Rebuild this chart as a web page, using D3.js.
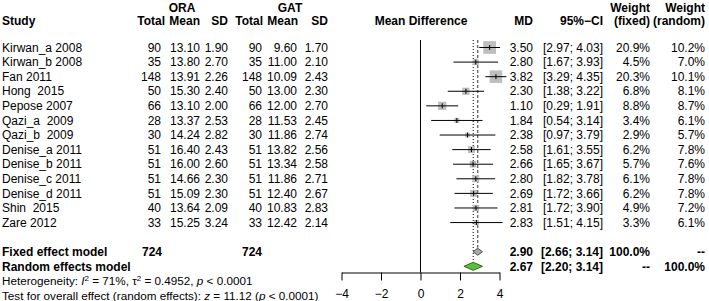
<!DOCTYPE html>
<html>
<head>
<meta charset="utf-8">
<script src="https://cdn.jsdelivr.net/npm/d3@7"></script>
<style>
  body { margin: 0; background: #fff; }
  svg text { font-family: "Liberation Sans", Arial, Helvetica, sans-serif; fill: #000; white-space: pre; }
</style>
</head>
<body>
<figure id="forest" style="margin:0"></figure>
<script>
// data
var studies = ["Kirwan_a 2008", "Kirwan_b 2008", "Fan 2011", "Hong  2015", "Pepose 2007", "Qazi_a  2009",
  "Qazi_b  2009", "Denise_a 2011", "Denise_b 2011", "Denise_c 2011", "Denise_d 2011", "Shin  2015", "Zare 2012"];
var oraTotal = [90, 35, 148, 50, 66, 28, 30, 51, 51, 51, 51, 40, 33];
var oraMean = ["13.10", "13.80", "13.91", "15.30", "13.10", "13.37", "14.24", "16.40", "16.00", "14.66", "15.09", "13.64", "15.25"];
var oraSD = ["1.90", "2.70", "2.26", "2.40", "2.00", "2.53", "2.82", "2.43", "2.60", "2.30", "2.30", "2.09", "3.24"];
var gatTotal = [90, 35, 148, 50, 66, 28, 30, 51, 51, 51, 51, 40, 33];
var gatMean = ["9.60", "11.00", "10.09", "13.00", "12.00", "11.53", "11.86", "13.82", "13.34", "11.86", "12.40", "10.83", "12.42"];
var gatSD = ["1.70", "2.10", "2.43", "2.30", "2.70", "2.45", "2.74", "2.56", "2.58", "2.71", "2.67", "2.83", "2.14"];
var md = [3.50, 2.80, 3.82, 2.30, 1.10, 1.84, 2.38, 2.58, 2.66, 2.80, 2.69, 2.81, 2.83];
var lower = [2.97, 1.67, 3.29, 1.38, 0.29, 0.54, 0.97, 1.61, 1.65, 1.82, 1.72, 1.72, 1.51];
var upper = [4.03, 3.93, 4.35, 3.22, 1.91, 3.14, 3.79, 3.55, 3.67, 3.78, 3.66, 3.90, 4.15];
var wFixed = [20.9, 4.5, 20.3, 6.8, 8.8, 3.4, 2.9, 6.2, 5.7, 6.1, 6.2, 4.9, 3.3];
var wRandom = [10.2, 7.0, 10.1, 8.1, 8.7, 6.1, 5.7, 7.8, 7.6, 7.8, 7.8, 7.2, 6.1];
var fixedEst = [2.90, 2.66, 3.14];
var randomEst = [2.67, 2.20, 3.14];
var totalN = [724, 724];
var xTicks = [-4, -2, 0, 2, 4];

var width = 709, height = 301;

var svg = d3.select("figure#forest")
  .append("svg")
  .attr("width", width)
  .attr("height", height);

// x scale for the mean difference panel
var x = d3.scaleLinear().domain([-4, 4]).range([341.5, 499.5]);
// line number -> vertical centre (lines 4.. are study rows)
var y = d3.scaleLinear().domain([4, 21]).range([47.5, 295.5]);
var headY = [7.5, 20.5];

function txt(g, xx, yy, s, anchor, bold, size) {
  return g.append("text")
    .attr("x", xx)
    .attr("y", yy)
    .attr("dy", "0.35em")
    .attr("text-anchor", anchor || "end")
    .style("font-size", (size || 12) + "px")
    .style("font-weight", bold ? "bold" : "normal")
    .text(s);
}

var head = svg.append("g");
txt(head, 182, headY[0], "ORA", "middle", true);
txt(head, 290, headY[0], "GAT", "middle", true);
txt(head, 2, headY[1], "Study", "start", true);
txt(head, 165, headY[1], "Total", "end", true);
txt(head, 200, headY[1], "Mean", "end", true);
txt(head, 228, headY[1], "SD", "end", true);
txt(head, 263, headY[1], "Total", "end", true);
txt(head, 298, headY[1], "Mean", "end", true);
txt(head, 328, headY[1], "SD", "end", true);
txt(head, 421, headY[1], "Mean Difference", "middle", true);
txt(head, 533, headY[1], "MD", "end", true);
txt(head, 603, headY[1], "95%\u2212CI", "end", true);
txt(head, 650, headY[0], "Weight", "end", true);
txt(head, 650, headY[1], "(fixed)", "end", true);
txt(head, 705, headY[0], "Weight", "end", true);
txt(head, 705, headY[1], "(random)", "end", true);

// study rows
var rows = svg.append("g");
studies.forEach(function(s, i) {
  var yy = y(i + 4);
  txt(rows, 2, yy, s, "start");
  txt(rows, 161, yy, oraTotal[i]);
  txt(rows, 200, yy, oraMean[i]);
  txt(rows, 228, yy, oraSD[i]);
  txt(rows, 262, yy, gatTotal[i]);
  txt(rows, 297, yy, gatMean[i]);
  txt(rows, 328, yy, gatSD[i]);
  txt(rows, 533, yy, md[i].toFixed(2));
  txt(rows, 603, yy, "[" + lower[i].toFixed(2) + "; " + upper[i].toFixed(2) + "]");
  txt(rows, 650, yy, wFixed[i].toFixed(1) + "%");
  txt(rows, 705, yy, wRandom[i].toFixed(1) + "%");
});

// summary rows
var sum = svg.append("g");
txt(sum, 2, y(18), "Fixed effect model", "start", true);
txt(sum, 162, y(18), totalN[0], "end", true);
txt(sum, 262, y(18), totalN[1], "end", true);
txt(sum, 533, y(18), fixedEst[0].toFixed(2), "end", true);
txt(sum, 603, y(18), "[" + fixedEst[1].toFixed(2) + "; " + fixedEst[2].toFixed(2) + "]", "end", true);
txt(sum, 650, y(18), "100.0%", "end", true);
txt(sum, 705, y(18), "--", "end", true);
txt(sum, 2, y(19), "Random effects model", "start", true);
txt(sum, 533, y(19), randomEst[0].toFixed(2), "end", true);
txt(sum, 603, y(19), "[" + randomEst[1].toFixed(2) + "; " + randomEst[2].toFixed(2) + "]", "end", true);
txt(sum, 650, y(19), "--", "end", true);
txt(sum, 705, y(19), "100.0%", "end", true);

var het = txt(sum, 2, y(20), "", "start", false, 11.7);
het.append("tspan").text("Heterogeneity: ");
het.append("tspan").style("font-style", "italic").text("I");
het.append("tspan").attr("baseline-shift", "super").style("font-size", "8px").text("2");
het.append("tspan").text(" = 71%, \u03c4");
het.append("tspan").attr("baseline-shift", "super").style("font-size", "8px").text("2");
het.append("tspan").text(" = 0.4952, ");
het.append("tspan").style("font-style", "italic").text("p");
het.append("tspan").text(" < 0.0001");

var tst = txt(sum, 2, y(21), "", "start", false, 11.7);
tst.append("tspan").text("Test for overall effect (random effects): ");
tst.append("tspan").style("font-style", "italic").text("z");
tst.append("tspan").text(" = 11.12 (");
tst.append("tspan").style("font-style", "italic").text("p");
tst.append("tspan").text(" < 0.0001)");

// reference lines
var plot = svg.append("g");
var axisY = 272.5;
plot.append("line")
  .attr("x1", x(0)).attr("x2", x(0))
  .attr("y1", 40).attr("y2", axisY)
  .attr("stroke", "#000").attr("stroke-width", 1);
plot.append("line")
  .attr("x1", x(fixedEst[0])).attr("x2", x(fixedEst[0]))
  .attr("y1", 40).attr("y2", y(18) - 4)
  .attr("stroke", "#333").attr("stroke-width", 1)
  .attr("stroke-dasharray", "3,2");
plot.append("line")
  .attr("x1", x(randomEst[0])).attr("x2", x(randomEst[0]))
  .attr("y1", 40).attr("y2", y(19) - 4)
  .attr("stroke", "#000").attr("stroke-width", 1)
  .attr("stroke-dasharray", "1,2");

// squares, CI lines and estimate ticks
var side = function(d) { return 2.78 * Math.sqrt(wFixed[d.i]); };
var study = plot.selectAll("g.study")
  .data(studies.map(function(s, i) { return {i: i}; }))
  .enter().append("g").attr("class", "study");

study.append("rect")
  .attr("x", function(d) { return x(md[d.i]) - side(d) / 2; })
  .attr("y", function(d) { return y(d.i + 4) - side(d) / 2; })
  .attr("width", side)
  .attr("height", side)
  .attr("fill", "#bebebe");

study.append("line")
  .attr("x1", function(d) { return x(lower[d.i]); })
  .attr("x2", function(d) { return x(upper[d.i]); })
  .attr("y1", function(d) { return y(d.i + 4); })
  .attr("y2", function(d) { return y(d.i + 4); })
  .attr("stroke", "#000").attr("stroke-width", 1);

study.append("line")
  .attr("x1", function(d) { return x(md[d.i]); })
  .attr("x2", function(d) { return x(md[d.i]); })
  .attr("y1", function(d) { return y(d.i + 4) - 2.5; })
  .attr("y2", function(d) { return y(d.i + 4) + 2.5; })
  .attr("stroke", "#000").attr("stroke-width", 1);

// diamonds
function diamond(est, line, h, fill, stroke) {
  var cy = y(line);
  var pts = [[x(est[1]), cy], [x(est[0]), cy - h / 2], [x(est[2]), cy], [x(est[0]), cy + h / 2]];
  plot.append("polygon")
    .attr("points", pts.map(function(p) { return p.join(","); }).join(" "))
    .attr("fill", fill).attr("stroke", stroke).attr("stroke-width", 1);
}
diamond(fixedEst, 18, 7, "#a9a9a9", "#555");
diamond(randomEst, 19, 8, "#5cbf3a", "#2f6b1e");

// x axis
var axis = svg.append("g")
  .attr("transform", "translate(0," + axisY + ")")
  .call(d3.axisBottom(x).tickValues(xTicks).tickSize(8).tickSizeOuter(0).tickPadding(9));
axis.select(".domain").attr("stroke", "#000");
axis.selectAll("text")
  .style("font-size", "12px")
  .style("font-family", "\"Liberation Sans\", Arial, sans-serif");
</script>
</body>
</html>
